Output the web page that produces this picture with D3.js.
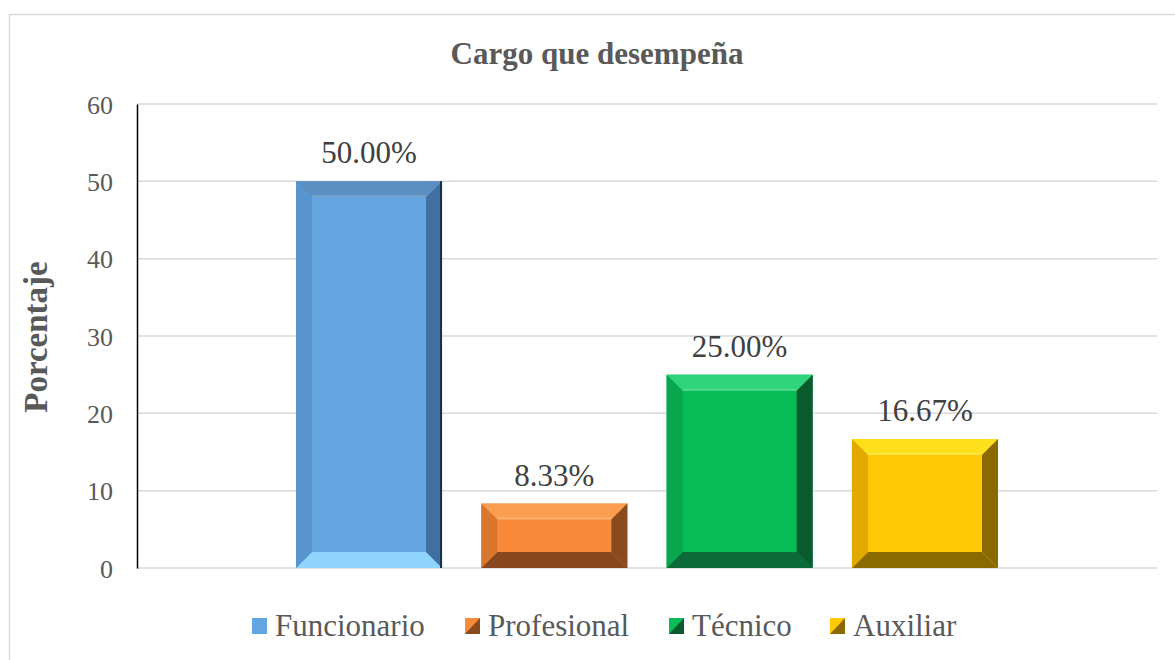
<!DOCTYPE html>
<html>
<head>
<meta charset="utf-8">
<script src="https://cdn.jsdelivr.net/npm/d3@7"></script>
<style>
  body { margin: 0; background: #fff; }
</style>
</head>
<body>
<div id="chart"></div>
<script>
// data
var categories = [""];
var seriesNames = ["Funcionario", "Profesional", "Técnico", "Auxiliar"];
var seriesValues = [50, 8.33, 25, 16.67];
var yTicks = [0, 10, 20, 30, 40, 50, 60];

// bevel colours: face, top, bottom, left, right
var bevelColors = [
  ["#63a5e0", "#5b8fc2", "#90d6fc", "#5895cf", "#3f70a0"],
  ["#f98a3a", "#fc9e4f", "#874820", "#d8762e", "#8a4a1f"],
  ["#08bd58", "#30d47a", "#0b6a38", "#0aa64e", "#0a5a2e"],
  ["#ffc906", "#ffe01c", "#8a6a00", "#e2aa00", "#8a6a00"]
];

var FONT = '"Liberation Serif", "Times New Roman", Times, serif';
var width = 1175, height = 660;
var margin = { top: 104, right: 18, bottom: 92, left: 137 };
var innerW = width - margin.left - margin.right;
var innerH = height - margin.top - margin.bottom;

var svg = d3.select("#chart").append("svg")
  .attr("width", width)
  .attr("height", height)
  .style("font-family", FONT);

// outer chart border (runs off the right / bottom of the picture)
svg.append("rect")
  .attr("x", 9.5).attr("y", 14.5)
  .attr("width", 1200).attr("height", 700)
  .attr("fill", "none")
  .attr("stroke", "#d9d9d9")
  .attr("stroke-width", 1.5);

svg.append("text")
  .attr("x", 597).attr("y", 64)
  .attr("text-anchor", "middle")
  .style("font-family", FONT)
  .style("font-size", "31px")
  .style("font-weight", "bold")
  .style("fill", "#595959")
  .text("Cargo que desempeña");

svg.append("text")
  .attr("transform", "translate(47,337) rotate(-90)")
  .attr("text-anchor", "middle")
  .style("font-family", FONT)
  .style("font-size", "33px")
  .style("font-weight", "bold")
  .style("fill", "#595959")
  .text("Porcentaje");

var g = svg.append("g")
  .attr("transform", "translate(" + margin.left + "," + margin.top + ")");

var y = d3.scaleLinear().domain([0, 60]).range([innerH, 0]);

var x0 = d3.scaleBand()
  .domain(categories)
  .range([0, innerW])
  .paddingInner(0)
  .paddingOuter(0.2265);

var x1 = d3.scaleBand()
  .domain(seriesNames)
  .range([0, x0.bandwidth()])
  .paddingInner(0.212)
  .paddingOuter(0);

// gridlines
g.selectAll(".grid")
  .data(yTicks).enter()
  .append("line")
  .attr("class", "grid")
  .attr("x1", 0).attr("x2", innerW)
  .attr("y1", function(d) { return y(d); })
  .attr("y2", function(d) { return y(d); })
  .attr("stroke", "#d9d9d9")
  .attr("stroke-width", 1.5);

var yAxis = d3.axisLeft(y).tickValues(yTicks).tickSize(0).tickPadding(24);
var yAxisG = g.append("g").call(yAxis).attr("font-family", null);
yAxisG.select(".domain").attr("stroke", "#000").attr("stroke-width", 1.5);
yAxisG.selectAll("text")
  .style("font-family", FONT)
  .style("font-size", "26px")
  .attr("fill", "#595959")
  .attr("dy", "0.35em");

var data = seriesNames.map(function(n, i) {
  return { name: n, value: seriesValues[i], colors: bevelColors[i] };
});

var bx = 16, by = 16;
var bars = g.selectAll(".bar")
  .data(data).enter()
  .append("g")
  .attr("class", "bar");

bars.each(function(d, i) {
  var sel = d3.select(this);
  var left = x0(categories[0]) + x1(d.name);
  var w = x1.bandwidth();
  var top = y(d.value), bot = y(0);
  var b = Math.min(by, (bot - top) / 2);
  var pts = function(arr) { return arr.map(function(p) { return p.join(","); }).join(" "); };

  sel.append("rect")
    .attr("x", left).attr("y", top)
    .attr("width", w).attr("height", bot - top)
    .attr("fill", d.colors[0]);
  sel.append("polygon")
    .attr("points", pts([[left, top], [left + w, top], [left + w - bx, top + b], [left + bx, top + b]]))
    .attr("fill", d.colors[1]);
  sel.append("polygon")
    .attr("points", pts([[left, bot], [left + w, bot], [left + w - bx, bot - b], [left + bx, bot - b]]))
    .attr("fill", d.colors[2]);
  sel.append("polygon")
    .attr("points", pts([[left, top], [left + bx, top + b], [left + bx, bot - b], [left, bot]]))
    .attr("fill", d.colors[3]);
  sel.append("polygon")
    .attr("points", pts([[left + w, top], [left + w - bx, top + b], [left + w - bx, bot - b], [left + w, bot]]))
    .attr("fill", d.colors[4]);
  // soft highlight strip just inside the top bevel
  sel.append("line")
    .attr("x1", left + bx).attr("x2", left + w - bx)
    .attr("y1", top + b - 1).attr("y2", top + b - 1)
    .attr("stroke", "#ffffff").attr("stroke-opacity", 0.18).attr("stroke-width", 2);
  if (i === 0) {
    sel.append("line")
      .attr("x1", left + w - 1).attr("x2", left + w - 1)
      .attr("y1", top).attr("y2", bot)
      .attr("stroke", "#1c2f44").attr("stroke-width", 2);
  }
});

var fmt = d3.format(".2f");
g.selectAll(".label")
  .data(data).enter()
  .append("text")
  .attr("class", "label")
  .attr("x", function(d) { return x0(categories[0]) + x1(d.name) + x1.bandwidth() / 2; })
  .attr("y", function(d) { return y(d.value) - 18; })
  .attr("text-anchor", "middle")
  .style("font-family", FONT)
  .style("font-size", "31px")
  .style("fill", "#404040")
  .text(function(d) { return fmt(d.value) + "%"; });

// legend
var legendX = [252, 465, 669, 830];
var legend = svg.selectAll(".legend")
  .data(data).enter()
  .append("g")
  .attr("class", "legend")
  .attr("transform", function(d, i) { return "translate(" + legendX[i] + ",618)"; });

legend.append("rect")
  .attr("width", 15).attr("height", 16)
  .attr("fill", function(d) { return d.colors[0]; });
legend.filter(function(d, i) { return i > 0; })
  .append("polygon")
  .attr("points", "15,0 15,16 0,16")
  .attr("fill", function(d) { return d.colors[4]; });

legend.append("text")
  .attr("x", 23).attr("y", 18)
  .style("font-family", FONT)
  .style("font-size", "31px")
  .style("fill", "#595959")
  .text(function(d) { return d.name; });
</script>
</body>
</html>
